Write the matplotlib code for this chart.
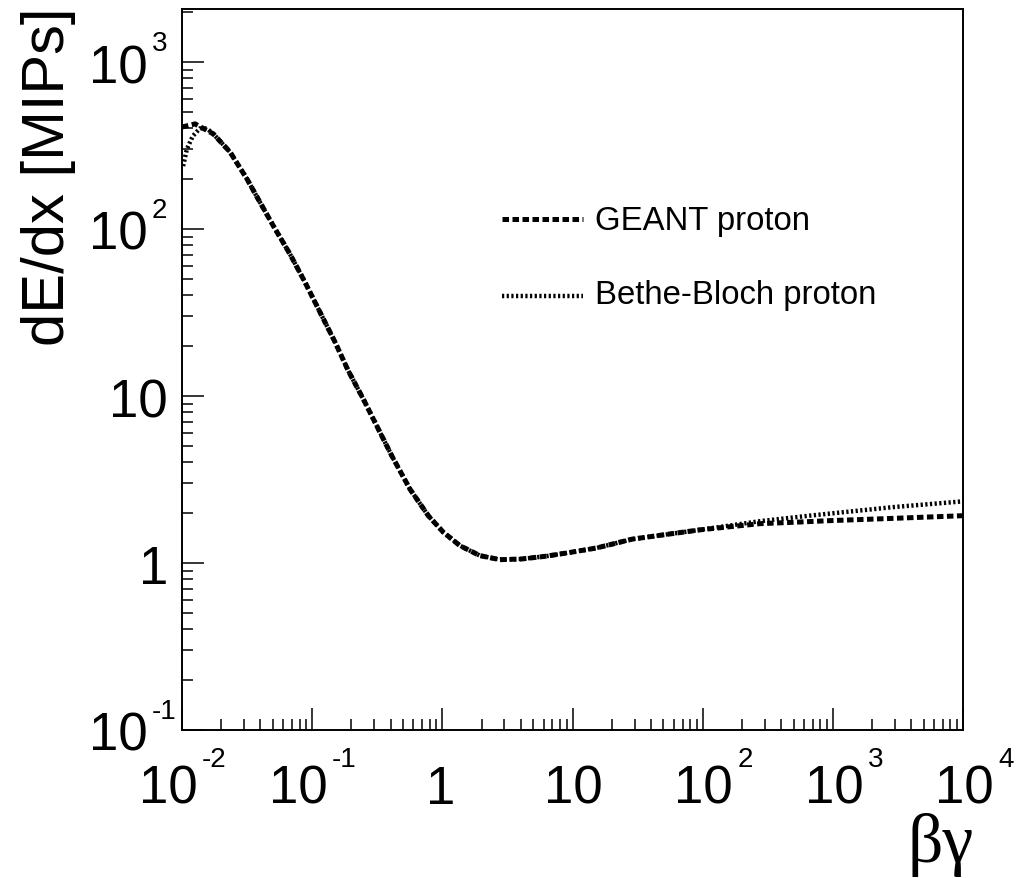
import numpy as np
import matplotlib
matplotlib.use("Agg")
import matplotlib.pyplot as plt
from matplotlib.transforms import blended_transform_factory, ScaledTranslation

# ---------------- data ----------------
geant_x = [0.0100, 0.0126, 0.0174, 0.0234, 0.0316, 0.0385, 0.0502, 0.0675, 0.0881,
           0.115, 0.150, 0.189, 0.247, 0.313, 0.408, 0.564, 0.780, 1.016, 1.365,
           1.945, 2.77, 4.06, 6.14, 9.02, 15.3, 28.8, 95.5, 275.0, 562.0, 891.0,
           2884.0, 10000.0]
geant_y = [408, 426, 371, 289, 199, 151, 104.7, 70.8, 48.0,
           31.7, 21.0, 14.2, 9.59, 6.64, 4.40, 2.77, 1.92, 1.53, 1.27,
           1.107, 1.047, 1.057, 1.096, 1.148, 1.230, 1.39, 1.58, 1.72, 1.76, 1.79,
           1.85, 1.92]

bb_x = [0.0102, 0.0109, 0.0121, 0.0137, 0.0155, 0.0174, 0.0234, 0.0316, 0.0385,
        0.0502, 0.0675, 0.0881, 0.115, 0.150, 0.189, 0.247, 0.313, 0.408, 0.564,
        0.780, 1.016, 1.365, 1.945, 2.77, 4.06, 6.14, 9.02, 15.3, 28.8, 95.5,
        275.0, 660.0, 2890.0, 10000.0]
bb_y = [238, 301, 360, 400, 400, 371, 289, 199, 151,
        104.7, 70.8, 48.0, 31.7, 21.0, 14.2, 9.59, 6.64, 4.40, 2.77,
        1.92, 1.53, 1.27, 1.107, 1.047, 1.057, 1.096, 1.148, 1.230, 1.39, 1.58,
        1.78, 1.92, 2.16, 2.34]

x_ticks = [1e-2, 1e-1, 1, 10, 1e2, 1e3, 1e4]
x_tick_base = ["10", "10", "1", "10", "10", "10", "10"]
x_tick_exp = ["-2", "-1", "", "", "2", "3", "4"]
y_ticks = [1e-1, 1, 10, 1e2, 1e3]
y_tick_base = ["10", "1", "10", "10", "10"]
y_tick_exp = ["-1", "", "", "2", "3"]

legend_labels = ["GEANT proton", "Bethe-Bloch proton"]
x_label = "βγ"
y_label = "dE/dx [MIPs]"

# ---------------- figure ----------------
W, H, DPI = 1021, 879, 100
fig = plt.figure(figsize=(W / DPI, H / DPI), dpi=DPI)
fig.patch.set_facecolor("white")

ax_l, ax_r, ax_b, ax_t = 182, 963, 731, 10
ax = fig.add_axes([ax_l / W, (H - ax_b) / H, (ax_r - ax_l) / W, (ax_b - ax_t) / H])
ax.set_xscale("log")
ax.set_yscale("log")
ax.set_xlim(1e-2, 1e4)
ax.set_ylim(0.1, 10 ** (-1 + (ax_b - ax_t) / 167.0))

for sp in ax.spines.values():
    sp.set_linewidth(1.4)
    sp.set_color("black")

ax.tick_params(which="both", direction="in", top=False, right=False,
               labelbottom=False, labelleft=False, color="black")
ax.tick_params(which="major", length=16, width=1.1)
ax.tick_params(which="minor", length=8, width=1.1)
ax.xaxis.set_major_locator(matplotlib.ticker.LogLocator(base=10, numticks=20))
ax.xaxis.set_minor_locator(matplotlib.ticker.LogLocator(base=10, subs=np.arange(2, 10), numticks=20))
ax.yaxis.set_major_locator(matplotlib.ticker.LogLocator(base=10, numticks=20))
ax.yaxis.set_minor_locator(matplotlib.ticker.LogLocator(base=10, subs=np.arange(2, 10), numticks=20))

# curves
lw_g = 3.6
lw_b = 3.2
ax.plot(geant_x, geant_y, color="black", lw=lw_g, dashes=(1.3, 0.7),
        dash_capstyle="butt", zorder=3)
ax.plot(bb_x, bb_y, color="black", lw=lw_b, dashes=(0.5, 0.55),
        dash_capstyle="butt", zorder=3)

FONT = "Liberation Sans"


def off(dx_px, dy_px):
    return ScaledTranslation(dx_px / DPI, -dy_px / DPI, fig.dpi_scale_trans)


# x tick labels
tx = blended_transform_factory(ax.transData, ax.transAxes)
for v, b, e in zip(x_ticks, x_tick_base, x_tick_exp):
    dx = -14 if e.startswith("-") else 1
    if b == "1":
        dx = -2
    ax.text(v, 0, b, transform=tx + off(dx, 73), ha="center", va="baseline",
            fontsize=38, family=FONT, clip_on=False)
    if e:
        ax.text(v, 0, e, transform=tx + off(dx + 34, 36), ha="left", va="baseline",
                fontsize=20, family=FONT, clip_on=False)

# y tick labels
ty = blended_transform_factory(ax.transAxes, ax.transData)
for v, b, e in zip(y_ticks, y_tick_base, y_tick_exp):
    if e:
        ax.text(0, v, b, transform=ty + off(-34, 20), ha="right", va="baseline",
                fontsize=38, family=FONT, clip_on=False)
        ax.text(0, v, e, transform=ty + off(-30, -12), ha="left", va="baseline",
                fontsize=20, family=FONT, clip_on=False)
    else:
        ax.text(0, v, b, transform=ty + off(-14, 20), ha="right", va="baseline",
                fontsize=38, family=FONT, clip_on=False)

# axis titles
fig.text(49 / W, (H - 8) / H, y_label, rotation=90, ha="center", va="top",
         fontsize=43, family=FONT)
fig.text(974 / W, (H - 877) / H, x_label, ha="right", va="bottom",
         fontsize=50, family="Liberation Serif")


# legend (drawn by hand to match placement)
def axfx(px):
    return (px - ax_l) / (ax_r - ax_l)


def axfy(py):
    return (ax_b - py) / (ax_b - ax_t)


ax.plot([axfx(502), axfx(583)], [axfy(220), axfy(220)], transform=ax.transAxes,
        color="black", lw=lw_g, dashes=(1.3, 0.7), dash_capstyle="butt", clip_on=False)
ax.plot([axfx(502), axfx(583)], [axfy(297), axfy(297)], transform=ax.transAxes,
        color="black", lw=lw_b, dashes=(0.5, 0.55), dash_capstyle="butt", clip_on=False)
ax.text(axfx(595), axfy(230), legend_labels[0], transform=ax.transAxes,
        ha="left", va="baseline", fontsize=23.7, family=FONT)
ax.text(axfx(595), axfy(304), legend_labels[1], transform=ax.transAxes,
        ha="left", va="baseline", fontsize=23.7, family=FONT)

fig.savefig("out.png", dpi=DPI, facecolor="white")
